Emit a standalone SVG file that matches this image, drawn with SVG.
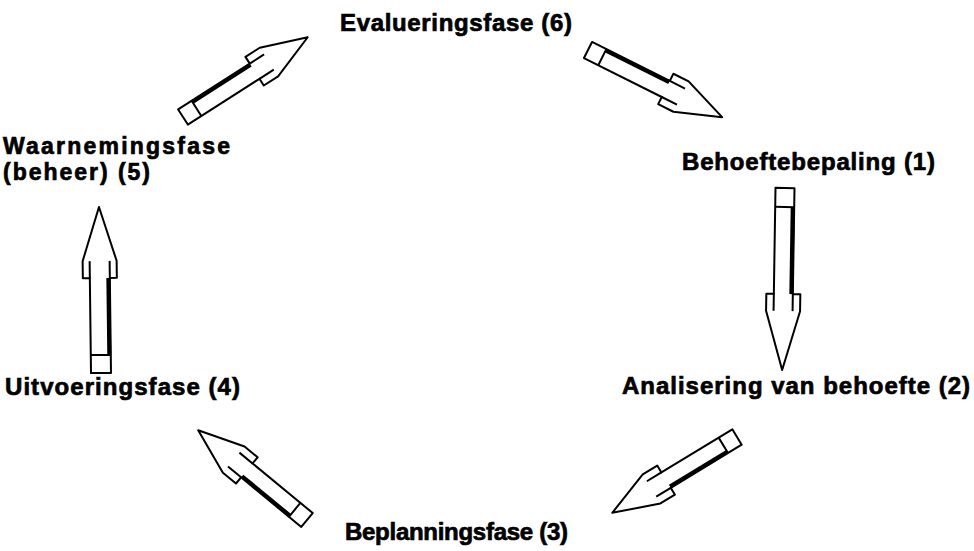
<svg xmlns="http://www.w3.org/2000/svg" width="974" height="551" viewBox="0 0 974 551">
<style>
.bg{fill:#fff}
.out{fill:#fff;stroke:#000;stroke-width:2;stroke-linejoin:round}
.ln{fill:none;stroke:#000;stroke-width:2}
.thick{fill:none;stroke:#000;stroke-width:4}
.lbl{font-family:"Liberation Sans",Arial,Helvetica,sans-serif;font-weight:bold;font-size:24px;fill:#000;stroke:#000;stroke-width:0.7}
.sm{font-size:23px}
</style>
<rect class="bg" x="0" y="0" width="974" height="551"/>
<g id="connectors">
  <!-- 5 -> 6 -->
  <g id="arrow-5-6" transform="translate(183,117) rotate(-32.6)">
    <path class="out" d="M0,-9 H85 V-17 H102 L148,0 L102,17 H85 V9 H0 Z"/>
    <path class="ln" d="M85,-9 H102 M85,9 H102 M16,-9 V9"/>
    <path class="thick" d="M16,-7.5 H85"/>
  </g>
  <!-- 6 -> 1 -->
  <g id="arrow-6-1" transform="translate(588,50) rotate(26.6)">
    <path class="out" d="M0,-9 H87 V-17 H104 L150,0 L104,17 H87 V9 H0 Z"/>
    <path class="ln" d="M87,-9 H104 M87,9 H104 M16,-9 V9"/>
    <path class="thick" d="M16,-7.5 H87"/>
  </g>
  <!-- 1 -> 2 -->
  <g id="arrow-1-2" transform="translate(785,188) rotate(90.9)">
    <path class="out" d="M0,-9.5 H106 V-17 H123 L182,0 L123,17 H106 V9.5 H0 Z"/>
    <path class="ln" d="M106,-9.5 H123 M106,9.5 H123 M19,-9.5 V9.5"/>
    <path class="thick" d="M19,-8 H106"/>
  </g>
  <!-- 2 -> 3 -->
  <g id="arrow-2-3" transform="translate(737,437) rotate(148.7)">
    <path class="out" d="M0,-9 H83 V-17 H100 L146,0 L100,17 H83 V9 H0 Z"/>
    <path class="ln" d="M83,-9 H100 M83,9 H100 M16,-9 V9"/>
    <path class="thick" d="M16,-7.5 H83"/>
  </g>
  <!-- 3 -> 4 -->
  <g id="arrow-3-4" transform="translate(307,520) rotate(-140.5)">
    <path class="out" d="M0,-9 H78 V-17 H95 L141,0 L95,17 H78 V9 H0 Z"/>
    <path class="ln" d="M78,-9 H95 M78,9 H95 M16,-9 V9"/>
    <path class="thick" d="M16,-7.5 H78"/>
  </g>
  <!-- 4 -> 5 -->
  <g id="arrow-4-5" transform="translate(101,373) rotate(-90.7)">
    <path class="out" d="M0,-10 H95 V-17 H112 L166,0 L112,17 H95 V10 H0 Z"/>
    <path class="ln" d="M95,-10 H112 M95,10 H112 M18,-10 V10"/>
    <path class="thick" d="M18,8.5 H95"/>
  </g>
</g>
<g id="node-6"><text class="lbl" x="340" y="31" textLength="232">Evalueringsfase (6)</text></g>
<g id="node-1"><text class="lbl" x="682" y="170" textLength="253">Behoeftebepaling (1)</text></g>
<g id="node-2"><text class="lbl" x="622" y="394" textLength="348">Analisering van behoefte (2)</text></g>
<g id="node-3"><text class="lbl" x="345" y="540" textLength="223">Beplanningsfase (3)</text></g>
<g id="node-4"><text class="lbl" x="5" y="395" textLength="235">Uitvoeringsfase (4)</text></g>
<g id="node-5">
  <text class="lbl sm" x="3" y="154" textLength="227">Waarnemingsfase</text>
  <text class="lbl sm" x="3" y="180" textLength="147">(beheer) (5)</text>
</g>
</svg>
